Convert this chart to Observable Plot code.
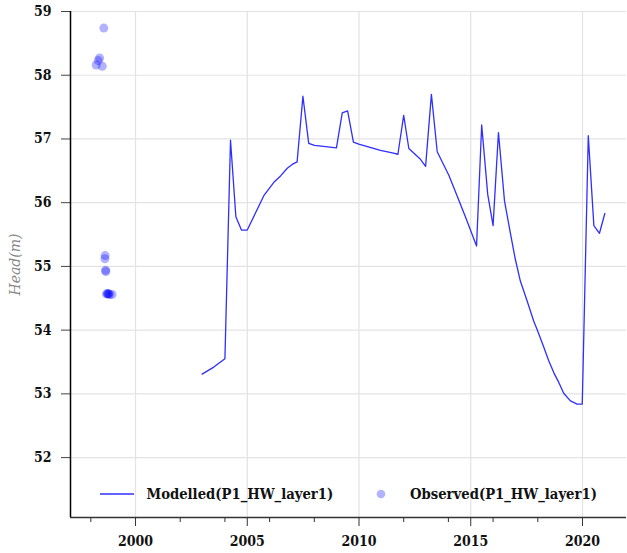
<!DOCTYPE html>
<html><head><meta charset="utf-8">
<script src="https://cdn.jsdelivr.net/npm/d3@7"></script>
<script src="https://cdn.jsdelivr.net/npm/@observablehq/plot@0.6"></script>
<style>
html,body{margin:0;padding:0;background:#fff;}
#wrap{position:relative;width:627px;height:553px;}
#legend{position:absolute;left:0;top:0;pointer-events:none;}
.cond{font-family:"DejaVu Serif Condensed","DejaVu Serif",serif;font-stretch:condensed;font-weight:bold;}
g[aria-label="y-axis tick label"] text, g[aria-label="x-axis tick label"] text{font-stretch:condensed;}
</style></head><body>
<div id="wrap"></div>
<script>
const modelYears = [2002.98,2003.50,2004.00,2004.25,2004.49,2004.74,2005.00,2005.74,2006.19,2006.49,2006.79,2007.01,2007.23,2007.49,2007.75,2008.01,2008.99,2009.25,2009.49,2009.75,2009.99,2010.96,2011.49,2011.74,2012.00,2012.23,2012.75,2012.98,2013.24,2013.50,2014.02,2014.24,2014.77,2015.26,2015.49,2015.76,2016.00,2016.24,2016.51,2016.78,2016.99,2017.22,2017.52,2017.82,2017.97,2018.27,2018.49,2018.72,2018.94,2019.16,2019.46,2019.76,2019.99,2020.26,2020.51,2020.76,2021.00];
const modelHead = [53.31,53.42,53.55,56.98,55.78,55.57,55.57,56.11,56.32,56.42,56.54,56.60,56.64,57.67,56.93,56.90,56.86,57.41,57.44,56.95,56.92,56.82,56.78,56.76,57.37,56.85,56.68,56.57,57.70,56.80,56.43,56.24,55.77,55.32,57.22,56.13,55.64,57.10,56.03,55.51,55.12,54.77,54.46,54.14,54.01,53.73,53.52,53.33,53.18,53.01,52.89,52.84,52.84,57.05,55.64,55.52,55.83];
const obsYears = [1998.58,1998.39,1998.33,1998.24,1998.51,1998.64,1998.63,1998.66,1998.67,1998.70,1998.74,1998.77,1998.80,1998.84,1998.95];
const obsHead  = [58.74,58.27,58.23,58.16,58.14,55.17,55.12,54.94,54.92,54.57,54.57,54.57,54.57,54.56,54.56];
const majorYears = [2000,2005,2010,2015,2020];
const minorYears = [1998,2002,2004,2006,2008,2012,2014,2016,2018];
const headTicks = [52,53,54,55,56,57,58,59];
const xDomain = [1997.09, 2021.97];
const yDomain = [51.06, 59];
const legendLabels = ["Modelled(P1_HW_layer1)", "Observed(P1_HW_layer1)"];
const yLabel = "Head(m)";

const LINE_COLOR = "#2f2fff";
const DOT_COLOR = "#0000ff";

const model = modelYears.map((x,i)=>({x, y: modelHead[i]}));
const obs = obsYears.map((x,i)=>({x, y: obsHead[i]}));
const FONT = '"DejaVu Serif Condensed", "DejaVu Serif", serif';

const chart = Plot.plot({
  width: 627, height: 553,
  marginLeft: 70, marginRight: 1, marginTop: 11, marginBottom: 36,
  style: {fontFamily: FONT, background: "#fff"},
  x: {domain: xDomain, axis: null},
  y: {domain: yDomain, axis: null},
  marks: [
    Plot.gridY(headTicks, {stroke: "#e3e3e3", strokeOpacity: 1, strokeWidth: 1.2}),
    Plot.gridX(majorYears, {stroke: "#e3e3e3", strokeOpacity: 1, strokeWidth: 1.2}),
    Plot.axisY(headTicks, {tickSize: 9, tickPadding: 10, fontSize: 14, fontWeight: "bold", fill: "#111", stroke: "#444", tickFormat: d => String(d), label: null}),
    Plot.axisX(majorYears, {tickSize: 9, tickPadding: 10, fontSize: 14, fontWeight: "bold", fill: "#111", stroke: "#333", tickFormat: d => String(d), label: null}),
    Plot.axisX(minorYears, {tickSize: 5, stroke: "#333", tickFormat: () => "", label: null}),
    Plot.ruleX([xDomain[0]], {stroke: "#000", strokeWidth: 1.5}),
    Plot.ruleY([yDomain[0]], {stroke: "#333", strokeWidth: 1.5}),
    Plot.line(model, {x: "x", y: "y", stroke: LINE_COLOR, strokeWidth: 1.3}),
    Plot.dot(obs, {x: "x", y: "y", r: 4.5, fill: DOT_COLOR, fillOpacity: 0.3, stroke: "none"}),
    Plot.text([yLabel], {frameAnchor: "left", textAnchor: "middle", dx: -55, rotate: -90, fontStyle: "italic", fontFamily: '"DejaVu Serif", serif', fill: "#888", fontSize: 14})
  ]
});
const wrap = document.getElementById("wrap");
wrap.appendChild(chart);

// legend overlay
const leg = d3.select(wrap).append("svg").attr("id", "legend").attr("width", 627).attr("height", 553);
const ly = 494;
leg.append("line").attr("x1", 100).attr("x2", 134).attr("y1", ly).attr("y2", ly)
   .attr("stroke", LINE_COLOR).attr("stroke-width", 1.3);
leg.append("text").attr("class", "cond").attr("x", 146.5).attr("y", 499).attr("font-size", 14.7)
   .attr("fill", "#111").text(legendLabels[0]);
leg.append("circle").attr("cx", 381).attr("cy", ly).attr("r", 4.3)
   .attr("fill", DOT_COLOR).attr("fill-opacity", 0.3);
leg.append("text").attr("class", "cond").attr("x", 410).attr("y", 499).attr("font-size", 14.7)
   .attr("fill", "#111").text(legendLabels[1]);
</script>
</body></html>
